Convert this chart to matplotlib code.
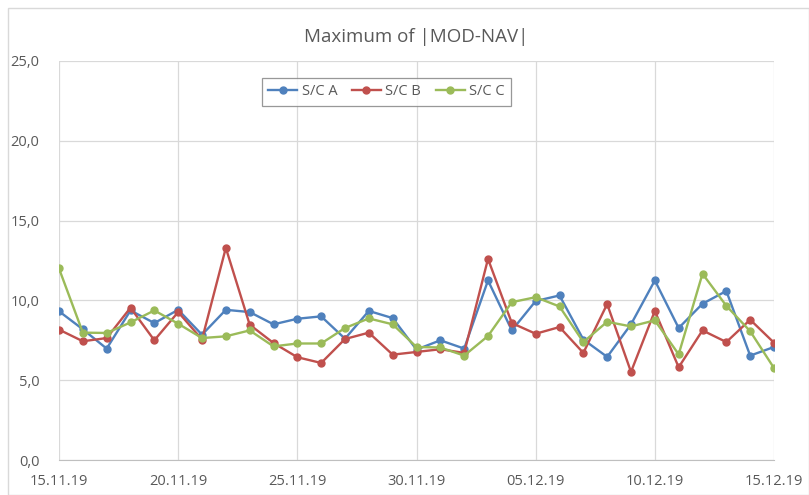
import matplotlib
matplotlib.use("Agg")
import matplotlib.pyplot as plt
import matplotlib.dates as mdates
import pandas as pd

TITLE = "Maximum of |MOD-NAV|"
SERIES_NAMES = ["S/C A", "S/C B", "S/C C"]
COLORS = ["#4F81BD", "#C0504D", "#9BBB59"]

dates = pd.date_range("2019-11-15", "2019-12-15", freq="D")

sc_a = [9.32, 8.19, 6.98, 9.37, 8.58, 9.41, 7.85, 9.41, 9.27, 8.50, 8.85,
        9.00, 7.60, 9.34, 8.89, 6.92, 7.50, 6.98, 11.25, 8.12, 9.96,
        10.31, 7.55, 6.46, 8.50, 11.25, 8.27, 9.79, 10.59, 6.54, 7.08]
sc_b = [8.17, 7.44, 7.64, 9.54, 7.50, 9.27, 7.55, 13.29, 8.48, 7.33, 6.44,
        6.08, 7.58, 7.98, 6.60, 6.77, 6.94, 6.71, 12.60, 8.58, 7.91,
        8.33, 6.71, 9.77, 5.52, 9.34, 5.81, 8.12, 7.39, 8.79, 7.35]
sc_c = [12.00, 7.98, 7.96, 8.62, 9.37, 8.54, 7.64, 7.75, 8.12, 7.12, 7.30,
        7.30, 8.27, 8.87, 8.50, 7.08, 7.05, 6.54, 7.77, 9.89, 10.20,
        9.62, 7.39, 8.66, 8.37, 8.75, 6.62, 11.67, 9.66, 8.07, 5.76]

y_ticks = [0, 5, 10, 15, 20, 25]
x_tick_dates = pd.date_range("2019-11-15", "2019-12-15", freq="5D")

plt.rcParams["font.family"] = ["Open Sans", "DejaVu Sans"]

fig = plt.figure(figsize=(8.09, 4.95), dpi=100)
ax = fig.add_axes([59 / 809, 1 - 460 / 495, (774 - 59) / 809, (460 - 61) / 495])

for values, name, color in zip((sc_a, sc_b, sc_c), SERIES_NAMES, COLORS):
    ax.plot(dates, values, color=color, linewidth=1.7, marker="o",
            markersize=5, label=name)

ax.set_xlim(dates[0], dates[-1])
ax.set_ylim(0, 25)
ax.set_yticks(y_ticks)
ax.set_yticklabels([f"{v:.1f}".replace(".", ",") for v in y_ticks])
ax.set_xticks(x_tick_dates)
ax.xaxis.set_major_formatter(mdates.DateFormatter("%d.%m.%y"))

ax.grid(True, color="#d9d9d9", linewidth=0.9)
ax.set_axisbelow(True)
for side in ("top", "right", "left"):
    ax.spines[side].set_visible(False)
ax.spines["bottom"].set_color("#bfbfbf")
ax.tick_params(length=0, labelsize=10.5, labelcolor="#595959")
ax.tick_params(axis="x", pad=10)
ax.tick_params(axis="y", pad=14)

ax.set_title(TITLE, fontsize=13.5, color="#595959", pad=14)

leg = ax.legend(loc="upper center", bbox_to_anchor=(0.458, 0.976), ncol=3,
                frameon=True, fancybox=False, fontsize=10.5,
                handlelength=2.0, columnspacing=1.0, borderpad=0.45,
                handletextpad=0.3)
leg.get_frame().set_edgecolor("#7f7f7f")
leg.get_frame().set_linewidth(0.9)
for text in leg.get_texts():
    text.set_color("#595959")

border = plt.Rectangle((8 / 809, 0), 1 - 8 / 809, 1 - 8 / 495,
                       transform=fig.transFigure, fill=False,
                       edgecolor="#d9d9d9", linewidth=1)
fig.patches.append(border)

fig.savefig("out.png", dpi=100)
